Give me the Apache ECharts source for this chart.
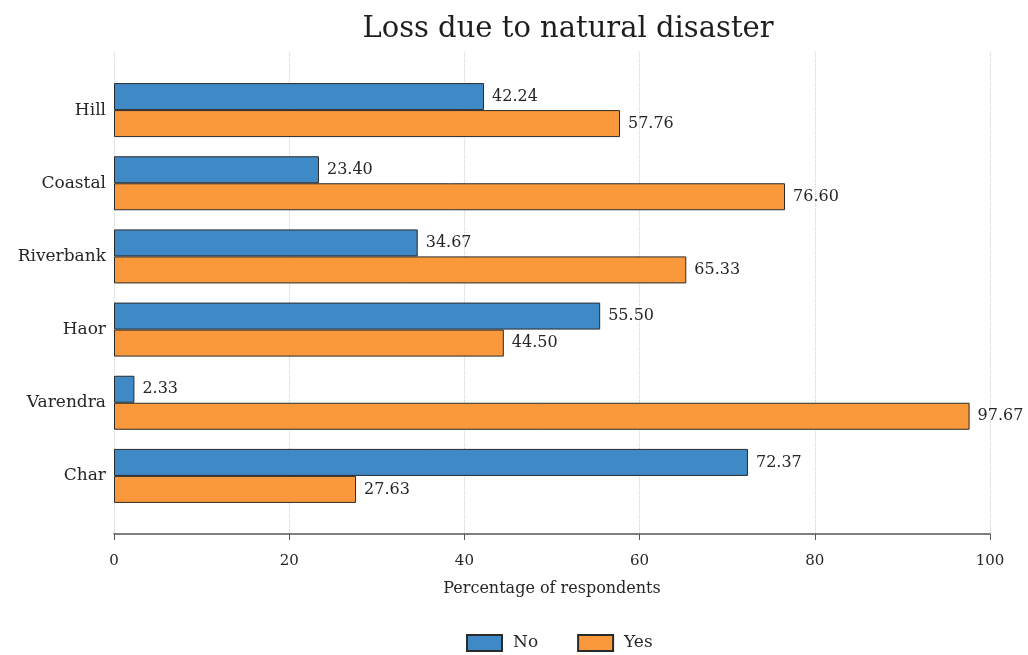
<!DOCTYPE html>
<html>
<head>
<meta charset="utf-8">
<script src="https://cdn.jsdelivr.net/npm/echarts@6/dist/echarts.min.js"></script>
<style>html,body{margin:0;padding:0;background:#fff}#c{width:1028px;height:655px}</style>
</head>
<body>
<div id="c"></div>
<script>
const categories = ["Hill", "Coastal", "Riverbank", "Haor", "Varendra", "Char"];
const noValues = [42.24, 23.40, 34.67, 55.50, 2.33, 72.37];
const yesValues = [57.76, 76.60, 65.33, 44.50, 97.67, 27.63];
const xTicks = [0, 20, 40, 60, 80, 100];

const FONT = 'DejaVu Serif';
const chart = echarts.init(document.getElementById('c'), null, {renderer: 'canvas'});
const labelCfg = {
  show: true, position: 'right', distance: 8,
  fontFamily: FONT, fontSize: 16, color: '#262626',
  formatter: p => p.value.toFixed(2)
};
chart.setOption({
  animation: false,
  backgroundColor: '#fff',
  title: {
    text: 'Loss due to natural disaster', left: 563, top: 10, textAlign: 'center',
    textStyle: {fontFamily: FONT, fontSize: 29, fontWeight: 'normal', color: '#1e1e1e'}
  },
  legend: {
    top: 629, left: 461, itemWidth: 35, itemHeight: 16, itemGap: 39,
    icon: 'rect',
    textStyle: {fontFamily: FONT, fontSize: 17, color: '#262626', padding: [0, 0, 0, 6]},
    data: ['No', 'Yes']
  },
  grid: [
    {left: 114, right: 38, top: 52, height: 482},
    {left: 114, right: 38, top: 73.5, height: 439}
  ],
  xAxis: [
    {
      gridIndex: 0, type: 'value', min: xTicks[0], max: xTicks[xTicks.length - 1], interval: 20,
      axisLine: {show: true, lineStyle: {color: '#555', width: 1.5}},
      axisTick: {show: true, length: 6, lineStyle: {color: '#555'}},
      axisLabel: {fontFamily: FONT, fontSize: 15, color: '#262626', margin: 20},
      splitLine: {show: true, lineStyle: {color: '#d0d0d0', type: 'dotted', width: 1.2}},
      name: 'Percentage of respondents', nameLocation: 'middle', nameGap: 47,
      nameTextStyle: {fontFamily: FONT, fontSize: 16, color: '#262626'}
    },
    {
      gridIndex: 1, type: 'value', min: 0, max: 100, show: false
    }
  ],
  yAxis: [
    {gridIndex: 0, type: 'value', show: false, min: 0, max: 1},
    {
      gridIndex: 1, type: 'category', data: categories, inverse: true,
      axisLine: {show: false}, axisTick: {show: false},
      axisLabel: {fontFamily: FONT, fontSize: 17, color: '#262626', margin: 8}
    }
  ],
  series: [
    {
      name: 'No', type: 'bar', xAxisIndex: 1, yAxisIndex: 1, data: noValues,
      barWidth: 27, barGap: '0%',
      itemStyle: {color: '#3f89c6', borderColor: '#2a2a2a', borderWidth: 1},
      label: labelCfg
    },
    {
      name: 'Yes', type: 'bar', xAxisIndex: 1, yAxisIndex: 1, data: yesValues,
      barWidth: 27, barGap: '0%',
      itemStyle: {color: '#f9993b', borderColor: '#2a2a2a', borderWidth: 1},
      label: labelCfg
    }
  ]
});
</script>
</body>
</html>
